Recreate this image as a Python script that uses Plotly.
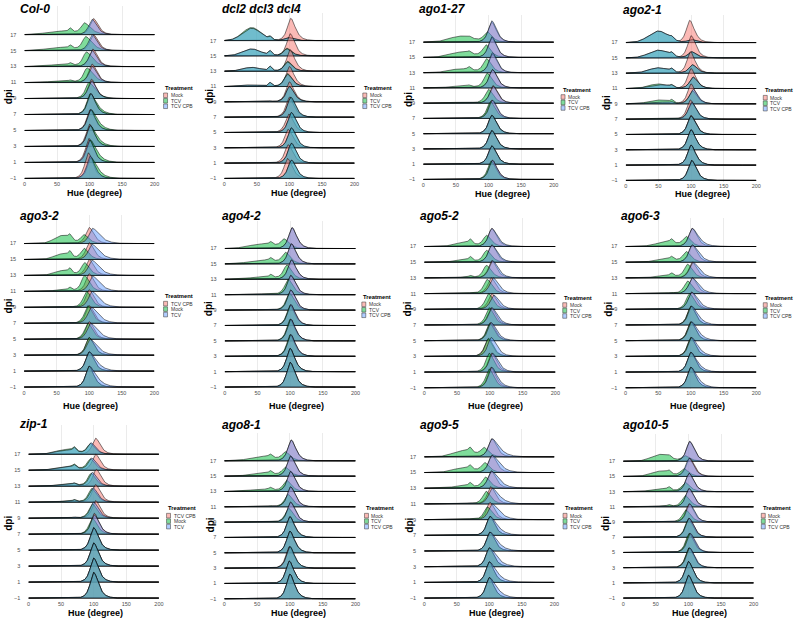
import numpy as np
import plotly.graph_objects as go

W, H = 799, 624

PANEL_NAMES = ["Col-0", "dcl2 dcl3 dcl4", "ago1-27", "ago2-1",
               "ago3-2", "ago4-2", "ago5-2", "ago6-3",
               "zip-1", "ago8-1", "ago9-5", "ago10-5"]
DPI = [-1, 1, 3, 5, 7, 9, 11, 13, 15, 17]
DPI_LABELS = ["\u22121", "1", "3", "5", "7", "9", "11", "13", "15", "17"]
HUE_TICKS = [0, 50, 100, 150, 200]
STD_LABELS = ["Mock", "TCV", "TCV CPB"]
ALT_LABELS = ["TCV CPB", "Mock", "TCV"]
LEGEND_LABELS = [STD_LABELS, STD_LABELS, STD_LABELS, STD_LABELS,
                 ALT_LABELS, STD_LABELS, STD_LABELS, STD_LABELS,
                 ALT_LABELS, STD_LABELS, STD_LABELS, STD_LABELS]

# ---- density descriptions (heights in ridge rows) ----
RED_C = [
    [98, 99, 100, 101, 102, 103, 104, 105, 106, 106],
    [97, 98, 98, 99, 100, 100, 100, 101, 101, 102],
    [106, 105, 105, 105, 105, 107, 106, 106, 105, 105],
    [101, 100, 100, 100, 99, 100, 100, 99, 100, 98],
    [100, 100, 100, 100, 100, 100, 100, 100, 100, 100],
    [100, 100, 101, 101, 101, 101, 101, 102, 102, 103],
    [102, 103, 97, 101, 102, 103, 102, 103, 103, 103],
    [100, 100, 100, 100, 100, 101, 102, 102, 102, 102],
    [100, 100, 100, 100, 101, 103, 103, 104, 103, 103],
    [100, 99, 99, 100, 100, 101, 101, 101, 101, 102],
    [100, 100, 100, 101, 101, 101, 102, 103, 104, 104],
    [100, 100, 101, 102, 101, 101, 101, 101, 102, 102],
]
RED_H = [
    [1.6, 1.5, 1.4, 1.3, 1.3, 1.2, 1.15, 1.1, 1.0, 1.0],
    [1.3, 1.2, 1.2, 1.2, 1.3, 1.3, 1.3, 1.4, 1.45, 1.45],
    [1.25, 1.2, 1.2, 1.2, 1.2, 1.15, 1.2, 1.2, 1.25, 1.3],
    [1.3, 1.3, 1.3, 1.25, 1.25, 1.3, 1.3, 1.4, 1.45, 1.45],
    [1.3, 1.2, 1.1, 1.1, 1.1, 1.1, 1.1, 1.0, 1.05, 1.0],
    [1.6, 1.5, 1.4, 1.4, 1.35, 1.3, 1.25, 1.25, 1.3, 1.35],
    [1.3, 1.2, 1.1, 1.15, 1.1, 1.0, 1.0, 1.1, 1.1, 1.15],
    [1.3, 1.25, 1.2, 1.2, 1.2, 1.1, 1.0, 1.0, 1.1, 1.15],
    [1.6, 1.5, 1.45, 1.4, 1.3, 1.1, 1.1, 1.05, 1.0, 1.0],
    [1.6, 1.45, 1.4, 1.4, 1.35, 1.3, 1.3, 1.3, 1.3, 1.35],
    [1.3, 1.3, 1.2, 1.2, 1.2, 1.1, 1.1, 1.1, 1.1, 1.15],
    [1.5, 1.4, 1.3, 1.25, 1.25, 1.2, 1.2, 1.2, 1.2, 1.3],
]
GREEN_C = [
    [102, 101, 101, 102, 101, 99, 96, 95, 94, 92],
    [103, 103, 103, 103, 102, 100, 97, 97, 96, 98],
    [104, 105, 105, 105, 103, 100, 98, 97, 96, 98],
    [101, 100, 100, 100, 101, 102, 103, 102, 101, 100],
    [100, 100, 100, 98, 98, 96, 93, 93, 92, 92],
    [100, 100, 100, 100, 100, 99, 97, 95, 93, 91],
    [99, 99, 98, 100, 99, 98, 96, 95, 95, 95],
    [100, 100, 100, 100, 100, 98, 95, 95, 93, 93],
    [100, 100, 100, 100, 98, 98, 97, 96, 95, 95],
    [100, 99, 100, 100, 100, 98, 97, 95, 93, 93],
    [100, 100, 100, 101, 101, 97, 95, 94, 93, 92],
    [100, 100, 101, 101, 100, 96, 95, 95, 93, 95],
]
GREEN_H = [
    [1.3, 1.4, 1.3, 1.3, 1.3, 1.0, 0.9, 0.9, 0.85, 0.7],
    [1.2, 1.3, 1.3, 1.3, 1.3, 1.0, 0.85, 0.65, 0.5, 0.2],
    [1.2, 1.2, 1.2, 1.2, 1.1, 0.9, 0.95, 0.9, 0.8, 0.65],
    [1.3, 1.3, 1.3, 1.2, 1.05, 0.85, 0.75, 0.55, 0.4, 0.2],
    [1.3, 1.2, 1.1, 1.0, 1.1, 1.0, 1.0, 0.8, 0.7, 0.55],
    [1.6, 1.5, 1.4, 1.4, 1.3, 1.1, 1.0, 0.9, 0.7, 0.55],
    [1.2, 1.2, 1.15, 1.1, 1.1, 1.0, 0.9, 0.8, 0.75, 0.7],
    [1.3, 1.25, 1.2, 1.2, 1.2, 1.0, 0.8, 0.85, 0.65, 0.6],
    [1.6, 1.5, 1.45, 1.4, 1.0, 0.9, 0.85, 0.8, 0.7, 0.65],
    [1.6, 1.45, 1.4, 1.4, 1.35, 0.9, 0.8, 0.7, 0.55, 0.55],
    [1.3, 1.3, 1.2, 1.2, 1.2, 0.8, 0.8, 0.7, 0.6, 0.55],
    [1.5, 1.4, 1.3, 1.25, 1.2, 0.8, 0.75, 0.6, 0.5, 0.35],
]
GREEN_PL = [
    [0, 0, 0, 0, 0, 0.02, 0.08, 0.12, 0.2, 0.22],
    [0, 0, 0, 0, 0, 0.03, 0.1, 0.25, 0.45, 0.85],
    [0, 0.03, 0, 0, 0.03, 0.06, 0.12, 0.25, 0.35, 0.4],
    [0, 0, 0, 0, 0.05, 0.25, 0.3, 0.35, 0.5, 0.75],
    [0, 0, 0, 0, 0, 0.03, 0.1, 0.3, 0.35, 0.5],
    [0, 0, 0, 0, 0, 0.02, 0.05, 0.15, 0.25, 0.3],
    [0, 0, 0, 0, 0, 0, 0.03, 0.05, 0.15, 0.25],
    [0, 0, 0, 0, 0, 0.02, 0.03, 0.15, 0.2, 0.28],
    [0, 0, 0, 0, 0, 0.03, 0.06, 0.12, 0.25, 0.3],
    [0, 0, 0, 0, 0, 0.02, 0.03, 0.15, 0.2, 0.3],
    [0, 0, 0, 0, 0, 0.02, 0.03, 0.15, 0.3, 0.4],
    [0, 0, 0, 0, 0, 0.02, 0.05, 0.2, 0.35, 0.45],
]
GREEN_SP = [
    [0, 0, 0, 0, 0, 0, 0.1, 0.15, 0.2, 0.25],
    [0, 0, 0, 0, 0, 0.05, 0.25, 0.3, 0.3, 0.2],
    [0, 0, 0, 0, 0, 0.05, 0.1, 0.2, 0.15, 0.1],
    [0, 0, 0, 0, 0.05, 0.2, 0.15, 0.2, 0.2, 0.15],
    [0, 0, 0, 0, 0, 0.03, 0.2, 0.3, 0.35, 0.3],
    [0, 0, 0, 0, 0, 0.02, 0.05, 0.2, 0.2, 0.2],
    [0, 0, 0, 0, 0, 0, 0.02, 0.12, 0.25, 0.3],
    [0, 0, 0, 0, 0, 0, 0.05, 0.2, 0.2, 0.25],
    [0, 0, 0, 0, 0.02, 0.05, 0.12, 0.12, 0.2, 0.25],
    [0, 0, 0, 0, 0, 0.03, 0.05, 0.15, 0.2, 0.2],
    [0, 0, 0, 0, 0, 0.03, 0.05, 0.25, 0.25, 0.3],
    [0, 0, 0, 0, 0, 0.03, 0.12, 0.2, 0.2, 0.15],
]
BLUE_C = [
    [101, 100, 101, 102, 102, 103, 104, 104, 104, 104],
    [103, 103, 103, 103, 102, 100, 97, 97, 96, 98],
    [106, 105, 105, 105, 106, 107, 106, 106, 105, 105],
    [101, 100, 100, 100, 101, 103, 103, 102, 101, 100],
    [100, 100, 101, 102, 103, 104, 105, 104, 104, 105],
    [100, 100, 101, 101, 101, 101, 101, 102, 102, 103],
    [103, 104, 102, 102, 103, 106, 105, 104, 103, 103],
    [100, 100, 101, 101, 101, 101, 102, 103, 102, 102],
    [100, 100, 100, 100, 101, 100, 99, 98, 97, 96],
    [100, 99, 100, 100, 100, 101, 101, 101, 101, 102],
    [100, 100, 100, 101, 101, 104, 104, 103, 104, 104],
    [100, 100, 102, 103, 101, 102, 101, 101, 101, 102],
]
BLUE_H = [
    [1.4, 1.4, 1.3, 1.3, 1.3, 1.1, 1.0, 1.0, 1.0, 0.95],
    [1.2, 1.3, 1.3, 1.3, 1.3, 1.0, 0.8, 0.6, 0.45, 0.2],
    [1.25, 1.2, 1.2, 1.2, 1.2, 1.1, 1.2, 1.3, 1.35, 1.4],
    [1.3, 1.3, 1.3, 1.2, 1.1, 0.95, 0.75, 0.55, 0.4, 0.2],
    [1.3, 1.2, 1.0, 1.0, 1.0, 1.0, 0.95, 0.95, 0.95, 0.95],
    [1.6, 1.5, 1.4, 1.4, 1.35, 1.3, 1.25, 1.25, 1.3, 1.35],
    [1.3, 1.2, 1.2, 1.15, 1.1, 0.9, 1.0, 1.1, 1.1, 1.15],
    [1.3, 1.25, 1.2, 1.2, 1.2, 1.1, 1.0, 1.0, 1.1, 1.15],
    [1.6, 1.5, 1.45, 1.4, 1.2, 1.0, 0.9, 0.85, 0.75, 0.7],
    [1.6, 1.45, 1.4, 1.4, 1.35, 1.3, 1.3, 1.3, 1.3, 1.35],
    [1.3, 1.3, 1.2, 1.2, 1.2, 1.0, 1.0, 1.1, 1.1, 1.15],
    [1.5, 1.4, 1.3, 1.25, 1.25, 1.2, 1.2, 1.2, 1.2, 1.3],
]
ZERO = [0] * 10
BLUE_PL = [ZERO,
           [0, 0, 0, 0, 0, 0.03, 0.1, 0.25, 0.45, 0.8],
           ZERO,
           [0, 0, 0, 0, 0, 0.12, 0.25, 0.35, 0.5, 0.75],
           ZERO, ZERO, ZERO, ZERO,
           [0, 0, 0, 0, 0, 0.02, 0.05, 0.1, 0.2, 0.25],
           ZERO, ZERO, ZERO]
BLUE_SP = [ZERO,
           [0, 0, 0, 0, 0, 0.05, 0.25, 0.3, 0.3, 0.2],
           ZERO,
           [0, 0, 0, 0, 0, 0.1, 0.15, 0.2, 0.2, 0.15],
           ZERO, ZERO, ZERO, ZERO,
           [0, 0, 0, 0, 0.02, 0.05, 0.12, 0.12, 0.2, 0.25],
           ZERO, ZERO, ZERO]
PL_CENTER = [55, 42, 58, 50, 58, 58, 60, 62, 58, 58, 60, 57]
PL_SD = [20, 14, 18, 15, 12, 20, 14, 16, 16, 18, 16, 14]
RIGHT_W = [[6, 8, 6], [6, 6, 6], [6, 6, 6], [6, 6, 6],
           [6, 6, 9], [6, 6, 6], [6, 6, 7], [6, 6, 8],
           [6, 6, 6], [6, 6, 6], [6, 6, 9], [6, 6, 6]]

# ---- layout geometry (pixels) ----
# x of hue 0, x of hue 200, y of dpi 17 baseline, y of dpi -1 baseline
GEOM = [(22.7, 154, 34.7, 179), (224.3, 355.7, 40.7, 179), (425, 556.7, 42.3, 180), (629.3, 761, 42.7, 181),
        (22.3, 153.7, 244.3, 388.3), (224.7, 356.7, 249.3, 388.3), (426, 558.3, 247.3, 389), (629, 761, 247.3, 389),
        (26.7, 158.3, 455.7, 600), (224.3, 356.7, 462.3, 600.7), (426, 557.3, 458.3, 600), (626.7, 758.3, 462.7, 600)]
TITLE_POS = [(16, 9), (220, 9), (418.7, 9), (624, 10), (16, 217), (220, 217), (420, 217), (622, 217),
             (14.7, 425), (219.7, 426), (420, 426), (624.7, 426)]
DPI_POS = [(6.5, 97), (210, 97), (410, 100), (610, 103), (6.5, 307), (208, 310), (409, 310), (611, 310),
           (6.5, 525), (210, 527), (411, 527), (609, 525)]
HUE_POS = [(93, 194), (299.5, 194), (504.7, 195), (707, 195), (89, 407), (296.7, 407), (497.5, 407), (701.7, 407),
           (94, 615), (299, 615), (499, 615), (703.5, 615)]
LEG_POS = [(163, 88.3), (364, 88.3), (564, 90), (768, 90.7), (163, 297.3), (363, 298), (565.7, 298.7), (768, 298.7),
           (166, 510), (365.7, 510), (566, 510), (766, 510)]

FILLS = ["rgba(248,118,109,0.5)", "rgba(0,186,56,0.5)", "rgba(97,156,255,0.5)"]
KEYS = ["#FBBAB6", "#7FDC9B", "#B0CDFF"]
FONT = "Liberation Sans, Arial, sans-serif"

hue = np.arange(0, 200.01, 0.5)


def peak(c, h, wl, wr):
    d = hue - c
    w = np.where(d < 0, wl, wr)
    return h * np.exp(1 - np.sqrt(1 + (d / w) ** 2))


def curve(p, s, i):
    if s == 0:
        return peak(RED_C[p][i], RED_H[p][i], 4.5, RIGHT_W[p][0])
    if s == 1:
        c, hh, pl, sp = GREEN_C[p][i], GREEN_H[p][i], GREEN_PL[p][i], GREEN_SP[p][i]
    else:
        c, hh, pl, sp = BLUE_C[p][i], BLUE_H[p][i], BLUE_PL[p][i], BLUE_SP[p][i]
    y = peak(c, hh, 4.5, RIGHT_W[p][s])
    y = y + pl * np.exp(-0.5 * ((hue - PL_CENTER[p]) / PL_SD[p]) ** 2)
    y = y + peak(70, sp, 2.0, 2.5)
    return y


fig = go.Figure()
layout = dict(width=W, height=H, autosize=False, margin=dict(l=0, r=0, t=0, b=0),
              paper_bgcolor="white", plot_bgcolor="rgba(0,0,0,0)", showlegend=False,
              font=dict(family=FONT))
annotations = []
shapes = []

for p, name in enumerate(PANEL_NAMES):
    k = p + 1
    xa = "x" if k == 1 else f"x{k}"
    ya = "y" if k == 1 else f"y{k}"
    x0, x200, y17, ym1 = GEOM[p]
    ppu = (ym1 - y17) / 18.0
    lo, hi = -1.15, 20.6
    bot_px = ym1 + (-1 - lo) * ppu
    top_px = y17 - (hi - 17) * ppu
    layout[f"xaxis{'' if k == 1 else k}"] = dict(
        domain=[x0 / W, x200 / W], range=[0, 200], anchor=ya,
        tickvals=HUE_TICKS, ticktext=[str(v) for v in HUE_TICKS],
        tickfont=dict(size=5.5, color="#4d4d4d"), ticks="",
        showgrid=True, gridcolor="#ebebeb", gridwidth=0.6, zeroline=False, showline=False)
    layout[f"yaxis{'' if k == 1 else k}"] = dict(
        domain=[1 - bot_px / H, 1 - top_px / H], range=[lo, hi], anchor=xa,
        tickvals=DPI, ticktext=DPI_LABELS, tickfont=dict(size=5.5, color="#4d4d4d"),
        ticks="outside", ticklen=6, tickcolor="rgba(0,0,0,0)",
        showgrid=True, gridcolor="#ebebeb", gridwidth=0.6, zeroline=False, showline=False)

    for i in range(len(DPI) - 1, -1, -1):
        base = DPI[i]
        for s in range(3):
            y = base + 2.0 * curve(p, s, i)
            xs = np.concatenate([hue, [200, 0]])
            ys = np.concatenate([y, [base, base]])
            fig.add_trace(go.Scatter(x=xs, y=ys, xaxis=xa, yaxis=ya, mode="lines",
                                     fill="toself", fillcolor=FILLS[s],
                                     line=dict(color="rgba(0,0,0,0.85)", width=0.6),
                                     hoverinfo="skip"))

    tx, ty = TITLE_POS[p]
    annotations.append(dict(text=f"<b><i>{name}</i></b>", x=tx / W, y=1 - ty / H, xref="paper", yref="paper",
                            xanchor="left", yanchor="middle", showarrow=False,
                            font=dict(size=12, color="black", family=FONT)))
    dx, dy = DPI_POS[p]
    annotations.append(dict(text="<b>dpi</b>", x=dx / W, y=1 - dy / H, xref="paper", yref="paper",
                            xanchor="center", yanchor="middle", showarrow=False, textangle=-90,
                            font=dict(size=10, color="black", family=FONT)))
    hx, hy = HUE_POS[p]
    annotations.append(dict(text="<b>Hue (degree)</b>", x=hx / W, y=1 - hy / H, xref="paper", yref="paper",
                            xanchor="center", yanchor="middle", showarrow=False,
                            font=dict(size=9, color="black", family=FONT)))
    lx, ly = LEG_POS[p]
    annotations.append(dict(text="<b>Treatment</b>", x=(lx - 0.5) / W, y=1 - ly / H, xref="paper", yref="paper",
                            xanchor="left", yanchor="middle", showarrow=False,
                            font=dict(size=5.8, color="black", family=FONT)))
    for j, lab in enumerate(LEGEND_LABELS[p]):
        cy = ly + 7.3 + 5.5 * j
        shapes.append(dict(type="rect", xref="paper", yref="paper",
                           x0=lx / W, x1=(lx + 4) / W, y0=1 - (cy + 2.3) / H, y1=1 - (cy - 2.3) / H,
                           fillcolor=KEYS[j], line=dict(color="#333333", width=0.5)))
        annotations.append(dict(text=lab, x=(lx + 5) / W, y=1 - cy / H, xref="paper", yref="paper",
                                xanchor="left", yanchor="middle", showarrow=False,
                                font=dict(size=5, color="#333333", family=FONT)))

layout["annotations"] = annotations
layout["shapes"] = shapes
fig.update_layout(**layout)
fig.write_html("out.html", config={"displayModeBar": False},
               post_script="document.body.style.margin='0';document.body.style.overflow='hidden';")
